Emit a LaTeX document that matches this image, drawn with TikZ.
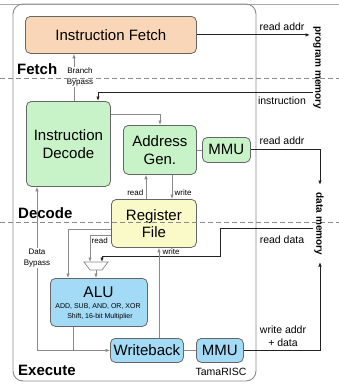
\documentclass[tikz,border=0pt]{standalone}
\usepackage{fontspec}
\setmainfont{Liberation Sans}
\usetikzlibrary{arrows.meta,calc}
\definecolor{ifc}{HTML}{F9D6B7}
\definecolor{grn}{HTML}{C8F2C8}
\definecolor{yel}{HTML}{FAFAC8}
\definecolor{blu}{HTML}{A3DBF7}
\definecolor{bord}{HTML}{666666}
\definecolor{intl}{HTML}{8A8A8A}
\definecolor{extl}{HTML}{222222}
\definecolor{topl}{HTML}{AAAAAA}
\begin{document}
\begin{tikzpicture}[x=1pt,y=-1pt,
 box/.style={draw=bord, line width=0.8pt, rounded corners=5pt, anchor=north west, inner sep=0pt, align=center, font=\fontsize{15}{17.5}\selectfont},
 int/.style={draw=intl, line width=0.75pt},
 ext/.style={draw=extl, line width=0.85pt},
 tip/.style={-{Latex[length=4.5pt,width=3.5pt]}},
 lbl/.style={font=\fontsize{10.5}{12.5}\selectfont, inner sep=0pt, align=center},
 sml/.style={font=\fontsize{8}{11}\selectfont, inner sep=0.5pt, align=center},
 stage/.style={font=\bfseries\fontsize{15}{17}\selectfont, anchor=west, inner sep=0pt},
 mem/.style={font=\bfseries\fontsize{10}{12}\selectfont, rotate=-90, inner sep=0pt},
]
\useasboundingbox (0,0) rectangle (339,388);
% frame
\draw[draw=topl, line width=0.8pt] (0,4) -- (339,4);
\draw[draw=intl, line width=0.9pt, rounded corners=10pt] (13,4) rectangle (256,381);

% boxes
\node[box, fill=ifc, minimum width=171pt, minimum height=37pt] (IF) at (25,16) {Instruction Fetch};
\node[box, fill=grn, minimum width=84pt, minimum height=85pt] (ID) at (26,101) {Instruction\\Decode};
\node[box, fill=grn, minimum width=73pt, minimum height=49pt] (AG) at (123,125) {Address\\Gen.};
\node[box, fill=grn, minimum width=48pt, minimum height=25pt] (MMU1) at (202,137) {MMU};
\node[box, fill=yel, minimum width=85pt, minimum height=48pt] (RF) at (111,199) {Register\\File};
\node[box, fill=blu, minimum width=97pt, minimum height=48pt] (ALU) at (50,278) {};
\node[box, fill=blu, minimum width=73pt, minimum height=24pt] (WB) at (110,338) {Writeback};
\node[box, fill=blu, minimum width=47pt, minimum height=24pt] (MMU2) at (196,338) {MMU};
\node[font=\fontsize{15.5}{17}\selectfont, inner sep=0pt] (alut) at (98.5,292) {ALU};
\node[font=\fontsize{7}{9}\selectfont, inner sep=0pt] (alus1) at (98,306) {ADD, SUB, AND, OR, XOR};
\node[font=\fontsize{7}{9}\selectfont, inner sep=0pt] (alus2) at (100,317) {Shift, 16-bit Multiplier};

% helper coordinates
\coordinate (xbb) at (74,0);
\coordinate (xin) at (98,0);
\coordinate (pmx) at (310,0);
\coordinate (inR) at (313,92);
\coordinate (yag) at (0,114);
\coordinate (xag) at (160,0);
\coordinate (dmT) at (320,185);
\coordinate (dmB) at (320,262);
\coordinate (xrd) at (146,0);
\coordinate (xwr) at (172,0);
\coordinate (xdb) at (37,0);
\coordinate (xalu) at (73,0);
\coordinate (xwb) at (159,0);
\coordinate (rdR) at (313,228);
\coordinate (rdA) at (220,228);
\coordinate (rdB) at (220,256);
\coordinate (yr1) at (0,229);
\coordinate (x68) at (68,0);
\coordinate (yr2) at (0,235);
\coordinate (m1) at (84,262);
\coordinate (m2) at (108,262);
\coordinate (m3) at (102,270);
\coordinate (m4) at (90,270);
\coordinate (mL) at (90,262);
\coordinate (mR) at (102,262);
\coordinate (mO) at (96,270);

% mux
\draw[int, fill=white] (m1) -- (m2) -- (m3) -- (m4) -- cycle;

% connectors
\draw[int,tip] (ID.north -| xbb) -- (IF.south -| xbb);
\draw[ext,tip] (IF.east) -- (IF.east -| pmx);
\draw[ext,tip] (inR) -| (ID.north -| xin);
\draw[int,tip] (ID.east |- yag) -| (AG.north -| xag);
\draw[int] (AG.east) -- (MMU1.west);
\draw[ext,tip] (MMU1.east) -| (dmT);
\draw[int,tip] (RF.north -| xrd) -- (AG.south -| xrd);
\draw[int,tip] (AG.south -| xwr) -- (RF.north -| xwr);
\draw[ext,tip] (rdR) -- (rdA) -- (rdB) -| (mR);
\draw[int,tip] (RF.west |- yr1) -| (ALU.north -| x68);
\draw[int,tip] (RF.west |- yr2) -| (mL);
\draw[int,tip] (mO) -- (ALU.north -| mO);
\draw[int,tip] (ALU.south -| xalu) |- (WB.west);
\draw[int] (WB.west -| xdb) -- (WB.west -| xalu);
\draw[int,tip] (WB.west -| xdb) -- (ID.south -| xdb);
\draw[int,tip] (WB.north -| xwb) -- (RF.south -| xwb);
\draw[int] (WB.east) -- (MMU2.west);
\draw[ext,tip] (MMU2.east) -| (dmB);

% small labels
\node[sml, fill=white] (bbl) at (80,77) {Branch\\Bypass};
\node[sml, fill=white] (dbl) at (37,258) {Data\\Bypass};
\node[sml, anchor=east] (rdl1) at (144,193) {read};
\node[sml, anchor=west] (wrl1) at (174,193) {write};
\node[sml, anchor=west] (rdl2) at (91,241) {read};
\node[sml, anchor=west] (wrl2) at (162,252) {write};

% stage separators
\draw[draw=intl, line width=0.8pt, dash pattern=on 5pt off 3pt] (0,78) -- (339,78);
\draw[draw=intl, line width=0.8pt, dash pattern=on 5pt off 3pt] (0,222) -- (339,222);

% external labels
\node[lbl] (l1) at (282,27) {read addr};
\node[lbl] (l2) at (282,101) {instruction};
\node[lbl] (l3) at (282,141) {read addr};
\node[lbl] (l4) at (282,240) {read data};
\node[lbl] (l5) at (283,336) {write addr\\+ data};
\node[mem] (pm) at (317,68) {program memory};
\node[mem] (dm) at (319,224) {data memory};

% stage names
\node[stage] (sf) at (17,69) {Fetch};
\node[stage] (sd) at (18,213) {Decode};
\node[stage] (se) at (18,370) {Execute};
\node[lbl] (tr) at (221,372) {TamaRISC};
\end{tikzpicture}
\end{document}
